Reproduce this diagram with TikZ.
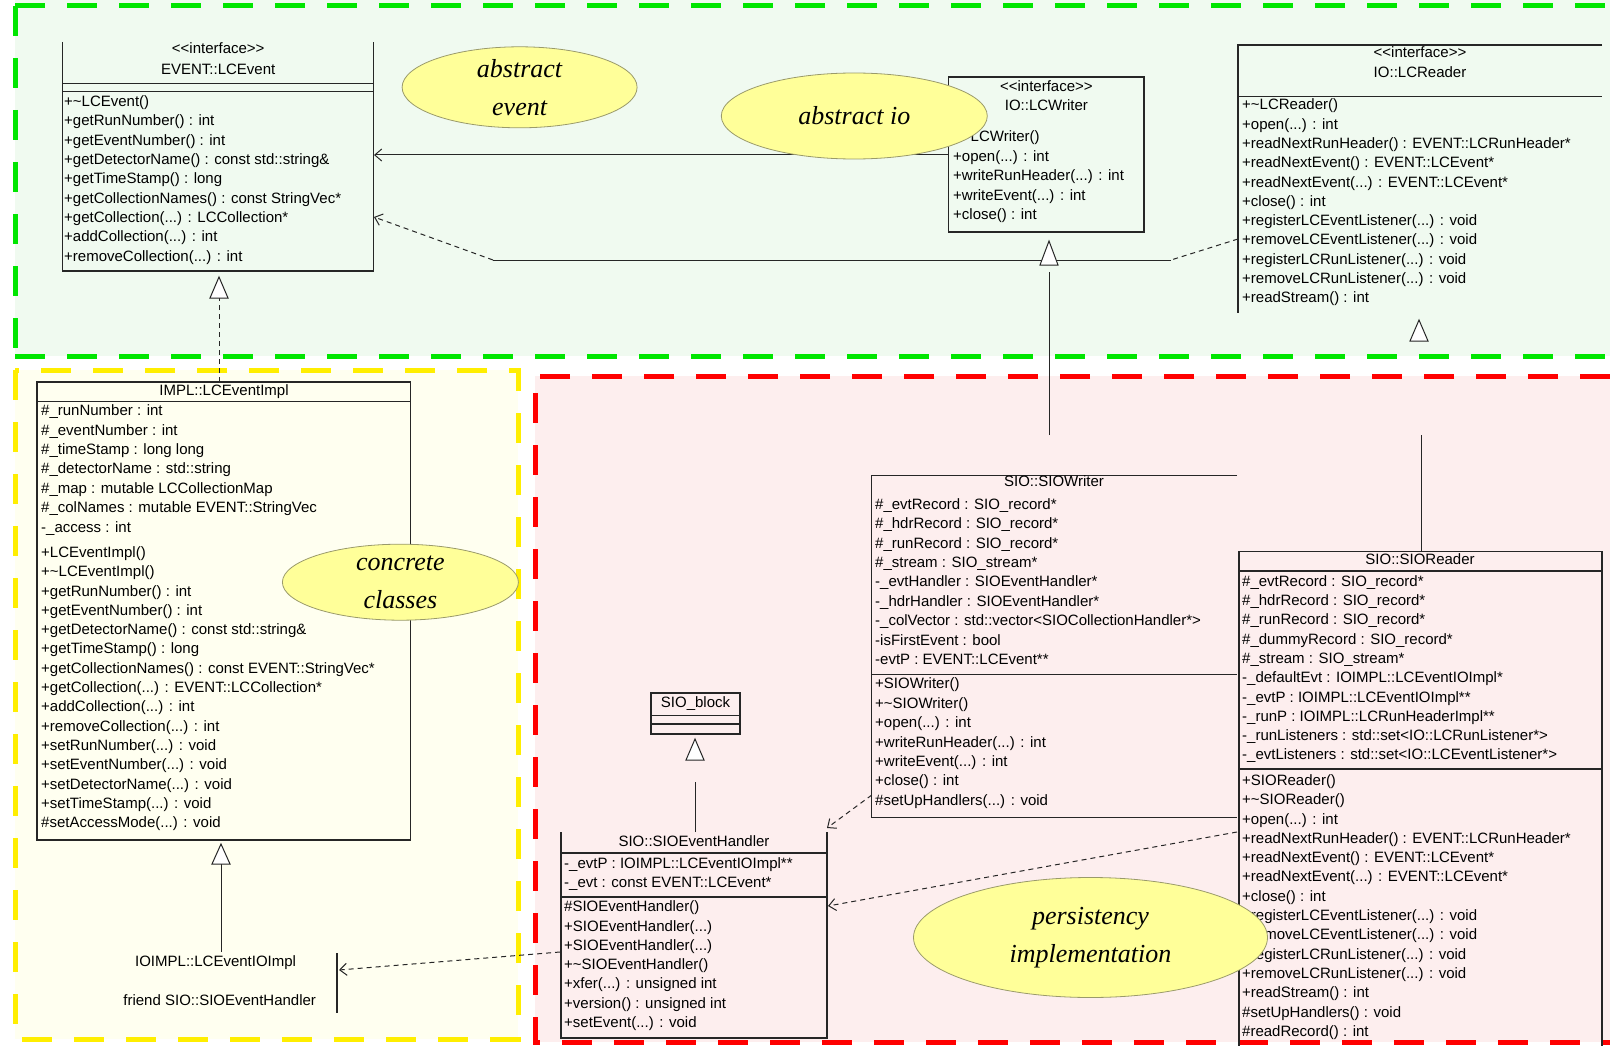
\documentclass[tikz,border=0pt]{standalone}
\usepackage{fontspec}
\setmainfont{Liberation Sans}
\newfontfamily\notefont{Liberation Serif}
\usetikzlibrary{arrows.meta,shapes.geometric}
\definecolor{gbg}{HTML}{F0FAF0}
\definecolor{ybg}{HTML}{FFFFF0}
\definecolor{rbg}{HTML}{FDEEEE}
\definecolor{gdash}{HTML}{00E600}
\definecolor{ydash}{HTML}{FFEE00}
\definecolor{rdash}{HTML}{FF0000}
\definecolor{ellfill}{HTML}{FFFF99}
\definecolor{ellline}{HTML}{9A9A6A}
\newcommand\umlrow[4]{\node[row] (#1) at (#2,#3) {#4};}
\newcommand\umlctr[4]{\node[ctrrow] (#1) at (#2,#3) {#4};}
\newcommand\tl{\textasciitilde}
\begin{document}
\begin{tikzpicture}[x=1pt,y=-1pt,
  row/.style={anchor=west,inner sep=0pt,font=\fontsize{15}{18}\selectfont,text height=11pt,text depth=3pt},
  ctrrow/.style={row,anchor=center},
  box/.style={line width=1.3pt,draw=black!85},
  band/.style={line width=5pt,dash pattern=on 30pt off 22pt},
  note/.style={ellipse,draw=ellline,fill=ellfill,line width=0.8pt,inner sep=0pt,align=center,font=\notefont\itshape\fontsize{26}{38}\selectfont},
  conn/.style={line width=1pt,draw=black!85},
  dep/.style={conn,-{Straight Barb[length=7pt,width=12pt]}},
  dashconn/.style={conn,dash pattern=on 5pt off 4pt},
  dashdep/.style={dep,dash pattern=on 5pt off 4pt},
  tri/.style={line width=1pt,draw=black!85,fill=white}]
\useasboundingbox (0,0) rectangle (1610,1046);
\fill[white] (0,0) rectangle (1610,1046);
% regions
\fill[gbg] (15,0) rectangle (1610,356);
\fill[ybg] (15,370) rectangle (518,1039);
\fill[rbg] (535,376) rectangle (1610,1042);
\draw[band,gdash] (15,6) -- (1610,6);
\draw[band,gdash] (15,6) -- (15,356);
\draw[band,gdash] (15,356) -- (1610,356);
\draw[band,ydash] (15,370) rectangle (518,1039);
\draw[band,rdash] (1610,376) -- (535,376) -- (535,1042) -- (1610,1042);

% ---- EVENT::LCEvent
\draw[box] (62.6,42) -- (62.6,271) -- (373.8,271) -- (373.8,42);
\draw[box] (62.6,83.2) -- (373.8,83.2);
\draw[box] (62.6,91.4) -- (373.8,91.4);
\umlctr{lceS}{218.2}{49.3}{<{}<interface>{}>}
\umlctr{lceT}{218.2}{70.8}{EVENT::LCEvent}
\umlrow{lce1}{64}{102.7}{+\tl LCEvent()}
\umlrow{lce2}{64}{122.0}{+getRunNumber() : int}
\umlrow{lce3}{64}{141.3}{+getEventNumber() : int}
\umlrow{lce4}{64}{160.6}{+getDetectorName() : const std::string\&}
\umlrow{lce5}{64}{179.9}{+getTimeStamp() : long}
\umlrow{lce6}{64}{199.2}{+getCollectionNames() : const StringVec*}
\umlrow{lce7}{64}{218.5}{+getCollection(...) : LCCollection*}
\umlrow{lce8}{64}{237.8}{+addCollection(...) : int}
\umlrow{lce9}{64}{257.1}{+removeCollection(...) : int}

% ---- IO::LCWriter
\draw[box] (948.8,77) rectangle (1143.9,232);
\umlctr{lcwS}{1046.4}{87.3}{<{}<interface>{}>}
\umlctr{lcwT}{1046.4}{106.8}{IO::LCWriter}
\umlrow{lcw1}{953}{137.6}{+\tl LCWriter()}
\umlrow{lcw2}{953}{157.1}{+open(...) : int}
\umlrow{lcw3}{953}{176.6}{+writeRunHeader(...) : int}
\umlrow{lcw4}{953}{196.1}{+writeEvent(...) : int}
\umlrow{lcw5}{953}{215.6}{+close() : int}

% ---- IO::LCReader
\draw[box] (1602,45) -- (1238,45) -- (1238,313);
\draw[box] (1238,96.5) -- (1602,96.5);
\umlctr{lcrS}{1420}{53.4}{<{}<interface>{}>}
\umlctr{lcrT}{1420}{74}{IO::LCReader}
\umlrow{lcr1}{1242}{105.8}{+\tl LCReader()}
\umlrow{lcr2}{1242}{125.1}{+open(...) : int}
\umlrow{lcr3}{1242}{144.4}{+readNextRunHeader() : EVENT::LCRunHeader*}
\umlrow{lcr4}{1242}{163.7}{+readNextEvent() : EVENT::LCEvent*}
\umlrow{lcr5}{1242}{183.0}{+readNextEvent(...) : EVENT::LCEvent*}
\umlrow{lcr6}{1242}{202.3}{+close() : int}
\umlrow{lcr7}{1242}{221.6}{+registerLCEventListener(...) : void}
\umlrow{lcr8}{1242}{240.9}{+removeLCEventListener(...) : void}
\umlrow{lcr9}{1242}{260.2}{+registerLCRunListener(...) : void}
\umlrow{lcr10}{1242}{279.5}{+removeLCRunListener(...) : void}
\umlrow{lcr11}{1242}{298.8}{+readStream() : int}

% ---- IMPL::LCEventImpl
\draw[box] (37,382) rectangle (410.7,840);
\draw[box] (37,401.5) -- (410.7,401.5);
\umlctr{lciT}{224}{391.5}{IMPL::LCEventImpl}
\umlrow{lcia1}{41}{411.7}{\#\_runNumber : int}
\umlrow{lcia2}{41}{431.1}{\#\_eventNumber : int}
\umlrow{lcia3}{41}{450.5}{\#\_timeStamp : long long}
\umlrow{lcia4}{41}{469.9}{\#\_detectorName : std::string}
\umlrow{lcia5}{41}{489.3}{\#\_map : mutable LCCollectionMap}
\umlrow{lcia6}{41}{508.7}{\#\_colNames : mutable EVENT::StringVec}
\umlrow{lcia7}{41}{528.1}{-\_access : int}
\umlrow{lcim1}{41}{553.4}{+LCEventImpl()}
\umlrow{lcim2}{41}{572.7}{+\tl LCEventImpl()}
\umlrow{lcim3}{41}{592.0}{+getRunNumber() : int}
\umlrow{lcim4}{41}{611.3}{+getEventNumber() : int}
\umlrow{lcim5}{41}{630.6}{+getDetectorName() : const std::string\&}
\umlrow{lcim6}{41}{649.9}{+getTimeStamp() : long}
\umlrow{lcim7}{41}{669.2}{+getCollectionNames() : const EVENT::StringVec*}
\umlrow{lcim8}{41}{688.5}{+getCollection(...) : EVENT::LCCollection*}
\umlrow{lcim9}{41}{707.8}{+addCollection(...) : int}
\umlrow{lcim10}{41}{727.1}{+removeCollection(...) : int}
\umlrow{lcim11}{41}{746.4}{+setRunNumber(...) : void}
\umlrow{lcim12}{41}{765.7}{+setEventNumber(...) : void}
\umlrow{lcim13}{41}{785.0}{+setDetectorName(...) : void}
\umlrow{lcim14}{41}{804.3}{+setTimeStamp(...) : void}
\umlrow{lcim15}{41}{823.6}{\#setAccessMode(...) : void}

% ---- SIO::SIOWriter
\draw[box] (1237,475.4) -- (871.8,475.4) -- (871.8,817.3) -- (1237,817.3);
\draw[box] (871.8,674.6) -- (1237,674.6);
\umlctr{siowT}{1054}{482.6}{SIO::SIOWriter}
\umlrow{siowa1}{875}{505.2}{\#\_evtRecord : SIO\_record*}
\umlrow{siowa2}{875}{524.6}{\#\_hdrRecord : SIO\_record*}
\umlrow{siowa3}{875}{544.0}{\#\_runRecord : SIO\_record*}
\umlrow{siowa4}{875}{563.4}{\#\_stream : SIO\_stream*}
\umlrow{siowa5}{875}{582.8}{-\_evtHandler : SIOEventHandler*}
\umlrow{siowa6}{875}{602.2}{-\_hdrHandler : SIOEventHandler*}
\umlrow{siowa7}{875}{621.6}{-\_colVector : std::vector<SIOCollectionHandler*>}
\umlrow{siowa8}{875}{641.0}{-isFirstEvent : bool}
\umlrow{siowa9}{875}{660.4}{-evtP : EVENT::LCEvent**}
\umlrow{siowm1}{875}{684.9}{+SIOWriter()}
\umlrow{siowm2}{875}{704.3}{+\tl SIOWriter()}
\umlrow{siowm3}{875}{723.7}{+open(...) : int}
\umlrow{siowm4}{875}{743.1}{+writeRunHeader(...) : int}
\umlrow{siowm5}{875}{762.5}{+writeEvent(...) : int}
\umlrow{siowm6}{875}{781.9}{+close() : int}
\umlrow{siowm7}{875}{801.3}{\#setUpHandlers(...) : void}

% ---- SIO::SIOReader
\draw[box] (1239,1046) -- (1239,551.4) -- (1602,551.4) -- (1602,1046);
\draw[box] (1239,571) -- (1602,571);
\draw[box] (1239,769) -- (1602,769);
\umlctr{siorT}{1420}{560.5}{SIO::SIOReader}
\umlrow{siora1}{1242}{582.2}{\#\_evtRecord : SIO\_record*}
\umlrow{siora2}{1242}{601.5}{\#\_hdrRecord : SIO\_record*}
\umlrow{siora3}{1242}{620.8}{\#\_runRecord : SIO\_record*}
\umlrow{siora4}{1242}{640.1}{\#\_dummyRecord : SIO\_record*}
\umlrow{siora5}{1242}{659.4}{\#\_stream : SIO\_stream*}
\umlrow{siora6}{1242}{678.7}{-\_defaultEvt : IOIMPL::LCEventIOImpl*}
\umlrow{siora7}{1242}{698.0}{-\_evtP : IOIMPL::LCEventIOImpl**}
\umlrow{siora8}{1242}{717.3}{-\_runP : IOIMPL::LCRunHeaderImpl**}
\umlrow{siora9}{1242}{736.6}{-\_runListeners : std::set<IO::LCRunListener*>}
\umlrow{siora10}{1242}{755.9}{-\_evtListeners : std::set<IO::LCEventListener*>}
\umlrow{siorm1}{1242}{781.4}{+SIOReader()}
\umlrow{siorm2}{1242}{800.7}{+\tl SIOReader()}
\umlrow{siorm3}{1242}{820.0}{+open(...) : int}
\umlrow{siorm4}{1242}{839.3}{+readNextRunHeader() : EVENT::LCRunHeader*}
\umlrow{siorm5}{1242}{858.6}{+readNextEvent() : EVENT::LCEvent*}
\umlrow{siorm6}{1242}{877.9}{+readNextEvent(...) : EVENT::LCEvent*}
\umlrow{siorm7}{1242}{897.2}{+close() : int}
\umlrow{siorm8}{1242}{916.5}{+registerLCEventListener(...) : void}
\umlrow{siorm9}{1242}{935.8}{+removeLCEventListener(...) : void}
\umlrow{siorm10}{1242}{955.1}{+registerLCRunListener(...) : void}
\umlrow{siorm11}{1242}{974.4}{+removeLCRunListener(...) : void}
\umlrow{siorm12}{1242}{993.7}{+readStream() : int}
\umlrow{siorm13}{1242}{1013.0}{\#setUpHandlers() : void}
\umlrow{siorm14}{1242}{1032.3}{\#readRecord() : int}

% ---- SIO_block
\draw[box] (651,693) rectangle (740,734);
\draw[box] (651,715.7) -- (740,715.7);
\draw[box] (651,724) -- (740,724);
\umlctr{sbT}{695.5}{703}{SIO\_block}

% ---- SIO::SIOEventHandler
\draw[box] (561,832) -- (561,1038) -- (827,1038) -- (827,832);
\draw[box] (561,853) -- (827,853);
\draw[box] (561,897) -- (827,897);
\umlctr{sehT}{694}{842}{SIO::SIOEventHandler}
\umlrow{seha1}{564}{864}{-\_evtP : IOIMPL::LCEventIOImpl**}
\umlrow{seha2}{564}{883}{-\_evt : const EVENT::LCEvent*}
\umlrow{sehm1}{564}{907.7}{\#SIOEventHandler()}
\umlrow{sehm2}{564}{927.0}{+SIOEventHandler(...)}
\umlrow{sehm3}{564}{946.3}{+SIOEventHandler(...)}
\umlrow{sehm4}{564}{965.6}{+\tl SIOEventHandler()}
\umlrow{sehm5}{564}{984.9}{+xfer(...) : unsigned int}
\umlrow{sehm6}{564}{1004.2}{+version() : unsigned int}
\umlrow{sehm7}{564}{1023.5}{+setEvent(...) : void}

% ---- IOIMPL::LCEventIOImpl
\umlctr{ioiT}{215.6}{962}{IOIMPL::LCEventIOImpl}
\umlctr{ioiF}{219.7}{1001}{friend SIO::SIOEventHandler}
\draw[box] (337,953) -- (337,1013);

% ---- connectors
\coordinate (lcwW) at (948.8,155);
\coordinate (lceE1) at (374,155);
\draw[dep] (lcwW) -- (lceE1);
\coordinate (lcrW) at (1238,239);
\coordinate (k2) at (1171,260);
\coordinate (k1) at (493,260);
\coordinate (lceE2) at (374,217);
\draw[dashconn] (lcrW) -- (k2);
\draw[conn] (k2) -- (k1);
\draw[dashdep] (k1) -- (lceE2);
% realization LCEventImpl -> LCEvent
\coordinate (lciN) at (219,382);
\coordinate (lceS1) at (219,298);
\draw[dashconn] (lciN) -- (lceS1);
\draw[tri] (210,298) -- (219,277) -- (228,298) -- cycle;
% LCEventIOImpl -> LCEventImpl
\coordinate (ioiN) at (221,952);
\coordinate (lciS) at (221,864);
\draw[conn] (ioiN) -- (lciS);
\draw[tri] (212,864) -- (221,844) -- (230,864) -- cycle;
% SIOWriter -> LCWriter
\coordinate (siowUp) at (1049,435);
\coordinate (lcwS1) at (1049,272);
\draw[conn] (siowUp) -- (lcwS1);
\draw[tri] (1040,265) -- (1049,241) -- (1058,265) -- cycle;
% SIOReader -> LCReader
\coordinate (siorN) at (1421,551.4);
\coordinate (siorUp) at (1421,435);
\draw[conn] (siorN) -- (siorUp);
\draw[tri] (1410,341) -- (1419,320) -- (1428,341) -- cycle;
% SIOEventHandler -> SIO_block
\coordinate (sehN) at (695,832);
\coordinate (sbS) at (695,782);
\draw[conn] (sehN) -- (sbS);
\draw[tri] (686,760) -- (695,739) -- (704,760) -- cycle;
% SIOWriter - SIOEventHandler
\coordinate (siowW) at (871.8,795);
\coordinate (sehNE) at (827,828);
\draw[dashdep] (siowW) -- (sehNE);
% SIOReader -> SIOEventHandler
\coordinate (siorW) at (1237,832);
\coordinate (sehE) at (828,906);
\draw[dashdep] (siorW) -- (sehE);
% SIOEventHandler -> LCEventIOImpl
\coordinate (sehW) at (560,952);
\coordinate (ioiE) at (339,970);
\draw[dashdep] (sehW) -- (ioiE);

% ---- notes
\node[note,minimum width=235pt,minimum height=81pt] (nEvent) at (519.6,87.3) {abstract\\event};
\node[note,minimum width=266pt,minimum height=86pt] (nIO) at (854.3,116) {abstract io};
\node[note,minimum width=236pt,minimum height=76pt] (nConc) at (400.4,582.2) {concrete\\classes};
\node[note,minimum width=354pt,minimum height=120pt] (nPers) at (1090.5,937.5) {persistency\\implementation};
\end{tikzpicture}
\end{document}
